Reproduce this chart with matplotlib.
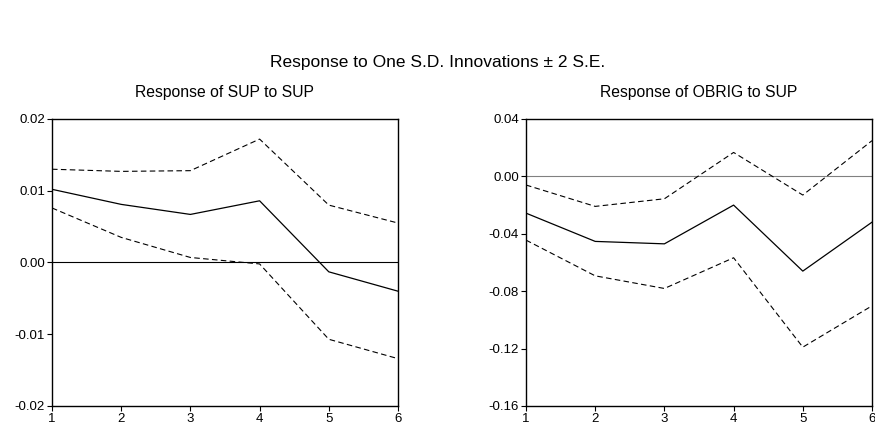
import matplotlib
matplotlib.use("Agg")
import matplotlib.pyplot as plt

plt.rcParams['font.family'] = ['Liberation Sans', 'DejaVu Sans']

periods = [1, 2, 3, 4, 5, 6]

# Response of SUP to SUP
sup_resp = [0.0102, 0.0081, 0.0067, 0.0086, -0.0013, -0.0040]
sup_upper = [0.0130, 0.0127, 0.0128, 0.0172, 0.0080, 0.0055]
sup_lower = [0.0076, 0.0035, 0.0007, -0.0002, -0.0107, -0.0134]

# Response of OBRIG to SUP
obrig_resp = [-0.0256, -0.0453, -0.0470, -0.0200, -0.0660, -0.0319]
obrig_upper = [-0.0060, -0.0209, -0.0156, 0.0167, -0.0130, 0.0249]
obrig_lower = [-0.0444, -0.0693, -0.0781, -0.0567, -0.1190, -0.0902]

sup_ticks = [-0.02, -0.01, 0.00, 0.01, 0.02]
obrig_ticks = [-0.16, -0.12, -0.08, -0.04, 0.00, 0.04]

fig = plt.figure(figsize=(8.75, 4.3), dpi=100)
fig.text(0.5, 1 - 63 / 430, "Response to One S.D. Innovations \u00b1 2 S.E.",
         ha='center', va='center', fontsize=12.5)

panels = [
    (52, "Response of SUP to SUP", sup_resp, sup_upper, sup_lower, sup_ticks, 'black'),
    (526, "Response of OBRIG to SUP", obrig_resp, obrig_upper, obrig_lower, obrig_ticks, '#808080'),
]

for left, title, resp, up, lo, ticks, zcol in panels:
    ax = fig.add_axes([left / 875, 1 - 406 / 430, 346 / 875, 287 / 430])
    ax.axhline(0, color=zcol, lw=0.8)
    ax.plot(periods, resp, color='black', lw=0.9)
    ax.plot(periods, up, color='black', lw=0.8, dashes=(5, 3))
    ax.plot(periods, lo, color='black', lw=0.8, dashes=(5, 3))
    ax.set_xlim(1, 6)
    ax.set_ylim(ticks[0], ticks[-1])
    ax.set_xticks(periods)
    ax.set_yticks(ticks)
    ax.set_yticklabels([f"{t:.2f}" for t in ticks])
    ax.tick_params(direction='out', length=3.5, width=0.8, labelsize=9.5, pad=1.5)
    for s in ax.spines.values():
        s.set_linewidth(1.0)
    fig.text((left + 173) / 875, 1 - 92 / 430, title, ha='center', va='center', fontsize=11.3)

fig.savefig("out.png", dpi=100)
